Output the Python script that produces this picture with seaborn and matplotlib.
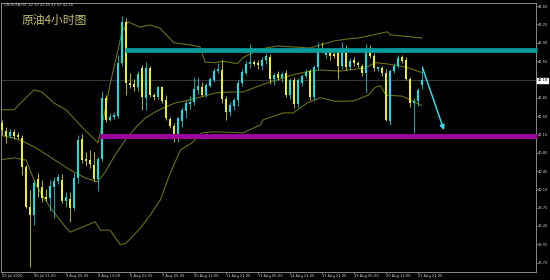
import numpy as np
import pandas as pd
import matplotlib
matplotlib.use("Agg")
import matplotlib.pyplot as plt
import matplotlib.transforms as mtransforms
import seaborn as sns

# ---------------- data ----------------
title_text = "原油4小时图"
header_text = "USOILSA,H4  42.10 42.45 42.02 42.18"

opens = [41.37, 41.22, 41.12, 41.20, 41.14, 41.08, 40.53, 39.77, 39.61, 40.29,
         40.15, 39.96, 39.93, 40.15, 40.25, 40.28, 39.88, 39.92, 39.75, 40.31,
         41.06, 40.68, 40.66, 40.57, 40.30, 40.68, 41.84, 41.43, 41.49, 41.50,
         42.51, 43.29, 42.13, 42.12, 42.06, 42.41, 41.84, 42.41, 41.90, 41.87,
         42.05, 41.81, 41.44, 41.31, 41.11, 41.40, 41.60, 41.73, 41.76, 42.00,
         42.06, 41.90, 42.08, 42.19, 42.37, 42.38, 41.82, 41.58, 41.70, 41.80,
         42.14, 42.33, 42.50, 42.53, 42.52, 42.46, 42.57, 42.62, 42.20, 42.30,
         42.22, 42.32, 41.90, 42.18, 41.73, 42.13, 42.27, 42.36, 41.87, 42.43,
         42.78, 42.67, 42.73, 42.68, 42.73, 42.45, 42.78, 42.43, 42.57, 42.51,
         42.46, 42.32, 42.78, 42.65, 42.40, 42.41, 42.32, 41.40, 42.37, 42.46,
         42.62, 42.57, 42.20, 41.75, 41.79, 42.10]
highs = [41.43, 41.30, 41.25, 41.25, 41.20, 41.14, 40.57, 40.09, 40.28, 40.41,
         40.28, 40.11, 40.28, 40.33, 40.39, 40.39, 40.05, 40.05, 40.41, 41.14,
         41.16, 40.82, 40.85, 40.82, 40.72, 41.97, 41.90, 41.56, 41.58, 42.66,
         43.41, 43.38, 42.33, 42.20, 42.36, 42.48, 42.54, 42.46, 41.95, 42.08,
         42.08, 41.90, 41.48, 41.37, 41.48, 41.67, 41.81, 41.88, 42.25, 42.25,
         42.15, 42.14, 42.25, 42.42, 42.52, 42.57, 41.88, 41.77, 41.85, 42.18,
         42.40, 42.56, 42.88, 42.58, 42.58, 42.63, 42.70, 42.68, 42.33, 42.36,
         42.34, 42.38, 42.23, 42.24, 42.22, 42.30, 42.40, 42.40, 42.47, 42.92,
         42.92, 42.80, 42.78, 42.72, 42.78, 42.92, 42.85, 42.60, 42.62, 42.55,
         42.50, 42.88, 42.86, 42.70, 42.46, 42.45, 42.40, 42.40, 42.52, 42.66,
         42.66, 42.62, 42.25, 41.85, 42.03, 42.45]
lows = [41.14, 40.99, 41.08, 41.06, 41.06, 40.37, 39.74, 38.62, 39.42, 39.95,
        39.86, 39.87, 39.69, 39.55, 40.20, 39.83, 39.77, 39.48, 39.70, 40.22,
        40.60, 40.55, 40.50, 40.26, 40.06, 40.64, 41.39, 41.40, 41.44, 41.46,
        42.45, 41.90, 42.04, 41.98, 41.98, 41.62, 41.62, 41.87, 41.81, 41.83,
        41.74, 41.43, 41.27, 41.00, 41.00, 41.29, 41.46, 41.64, 41.71, 41.92,
        41.89, 41.87, 42.05, 42.15, 42.33, 41.75, 41.43, 41.50, 41.62, 41.69,
        42.08, 42.28, 42.42, 42.45, 42.40, 42.38, 42.50, 42.12, 42.10, 42.18,
        42.16, 41.86, 41.82, 41.65, 41.68, 42.08, 42.22, 41.80, 41.80, 42.38,
        42.70, 42.60, 42.58, 42.60, 42.20, 42.40, 42.38, 42.38, 42.45, 42.44,
        42.27, 41.95, 42.60, 42.36, 42.36, 42.27, 41.40, 41.33, 42.33, 42.42,
        42.52, 42.18, 41.68, 41.17, 41.70, 42.02]
closes = [41.23, 41.12, 41.19, 41.11, 41.10, 40.53, 39.77, 39.61, 40.22, 40.14,
          39.93, 39.92, 40.16, 40.26, 40.33, 39.88, 39.96, 39.75, 40.31, 41.04,
          40.66, 40.65, 40.58, 40.30, 40.68, 41.84, 41.43, 41.49, 41.52, 42.51,
          43.29, 42.13, 42.10, 42.06, 42.31, 41.86, 42.41, 41.90, 41.86, 42.06,
          41.78, 41.46, 41.31, 41.11, 41.46, 41.62, 41.75, 41.77, 42.02, 42.08,
          41.90, 42.09, 42.20, 42.37, 42.40, 41.82, 41.57, 41.71, 41.80, 42.14,
          42.35, 42.50, 42.53, 42.50, 42.48, 42.57, 42.64, 42.20, 42.29, 42.22,
          42.30, 41.90, 42.18, 41.73, 42.18, 42.27, 42.35, 41.87, 42.43, 42.78,
          42.75, 42.75, 42.64, 42.64, 42.45, 42.78, 42.43, 42.55, 42.51, 42.48,
          42.32, 42.78, 42.65, 42.41, 42.43, 42.32, 41.43, 42.37, 42.46, 42.60,
          42.56, 42.20, 41.75, 41.79, 41.99, 42.18]

# Bollinger bands sampled at bar positions
upper_x = [-1, 3, 6, 8, 10, 13, 16, 20, 24, 25.5, 27, 28.5, 30, 31.5, 34.5, 37,
           39.5, 43, 47, 49.5, 50.8, 53.3, 55.3, 58.8, 60.3, 64.6, 68.8, 72.8,
           77.1, 79.6, 83.3, 87.1, 89.1, 92.8, 95.1, 96.3, 97.1, 100, 102.6, 105]
upper_y = [41.62, 41.62, 41.85, 42.00, 41.96, 41.75, 41.62, 41.29, 40.99, 41.50,
           42.10, 42.60, 43.10, 43.30, 43.20, 43.24, 43.18, 42.90, 42.86, 42.82,
           42.53, 42.52, 42.55, 42.50, 42.62, 42.78, 42.84, 42.82, 42.80, 42.86,
           42.94, 42.98, 42.99, 43.05, 43.09, 43.11, 43.05, 43.03, 43.01, 42.99]
middle_x = [-1, 3, 6, 8.5, 12, 17, 20.8, 23.8, 25.8, 28.3, 30.8, 33.3, 35.8, 38.3,
            40.8, 43.3, 47, 50, 53.3, 57, 60.3, 63, 67, 72.8, 77, 79.6, 84.6,
            90.8, 93.3, 96, 100.8, 105]
middle_y = [41.14, 41.08, 40.99, 40.89, 40.72, 40.47, 40.32, 40.24, 40.43, 40.76,
            41.04, 41.27, 41.46, 41.58, 41.67, 41.75, 41.81, 41.87, 41.94, 41.96,
            41.96, 42.04, 42.15, 42.29, 42.36, 42.38, 42.36, 42.42, 42.52, 42.50,
            42.44, 42.33]
lower_x = [-1, 3, 6, 7, 8.5, 12, 14.5, 17, 19.5, 23.3, 24.6, 27, 29.6, 31, 34.6,
           37.1, 39.6, 42, 44.6, 47.5, 50, 53, 60.3, 64.6, 65.3, 70.3, 72.8, 76.3,
           79.6, 83.3, 88, 91.6, 93.3, 94.6, 96, 100.1, 105]
lower_y = [40.66, 40.70, 40.66, 40.47, 40.18, 39.76, 39.51, 39.28, 39.36, 39.48,
           39.32, 39.32, 39.04, 39.07, 39.36, 39.61, 39.90, 40.40, 40.85, 40.99,
           41.18, 41.20, 41.18, 41.33, 41.43, 41.56, 41.56, 41.75, 41.85, 41.78,
           41.79, 41.90, 42.05, 42.08, 41.90, 41.88, 41.70]

resistance_level = 42.77
resistance_start = 30.75
support_level = 41.11
support_start = 24.5
current_price = 42.18
arrow_from = (105.1, 42.43)
arrow_to = (110.5, 41.23)

xtick_pos = [0, 8, 16, 24, 32, 40, 48, 56, 64, 72, 80, 88, 96, 104]
xtick_labels = ["29 Jul 2020", "30 Jul 21:00", "3 Aug 05:00", "4 Aug 13:00",
                "5 Aug 21:00", "7 Aug 05:00", "10 Aug 13:00", "11 Aug 21:00",
                "13 Aug 05:00", "14 Aug 13:00", "17 Aug 21:00", "19 Aug 05:00",
                "20 Aug 13:00", "21 Aug 21:00"]
ytick_vals = [43.60, 43.25, 42.90, 42.55, 41.85, 41.50, 41.15, 40.80, 40.45,
              40.10, 39.75, 39.40, 39.05, 38.70]

# ---------------- styling ----------------
sns.set_theme(style="dark", rc={"axes.facecolor": "black", "figure.facecolor": "black",
                                "axes.edgecolor": "#8a8a8a", "axes.linewidth": 0.7})
plt.rcParams['font.family'] = ['DejaVu Sans', 'Noto Sans CJK SC']

UP = "#00e8f0"
DOWN = "#f2f200"
BAND = "#6e6e12"
SMALL = 2.6

fig = plt.figure(figsize=(5.5, 2.8), dpi=100)
ax = fig.add_axes([1 / 550, 1 - 272 / 280, 534.5 / 550, 269.5 / 280])
ax.set_facecolor("black")

df = pd.DataFrame({"o": opens, "h": highs, "l": lows, "c": closes})
df["i"] = np.arange(len(df))
up = df["c"] >= df["o"]
colors = np.where(up, UP, DOWN)

# current price line
ax.axhline(current_price, color="#3a3a3a", lw=0.7, zorder=1)

# bands
for bx, by in [(upper_x, upper_y), (middle_x, middle_y), (lower_x, lower_y)]:
    sns.lineplot(x=bx, y=by, ax=ax, color=BAND, lw=0.8, sort=False, legend=False, zorder=2)

# wicks + bodies
ax.vlines(df["i"], df["l"], df["h"], colors=colors, lw=0.7, alpha=0.75, zorder=3)
body_h = np.maximum((df["c"] - df["o"]).abs(), 0.025)
ax.bar(df["i"], body_h, bottom=np.minimum(df["o"], df["c"]), width=0.72,
       color=colors, linewidth=0, zorder=4)

# horizontal levels
ax.plot([resistance_start, 133.8], [resistance_level] * 2, color="#009c9c", lw=3.4,
        solid_capstyle="butt", zorder=5, clip_on=False)
ax.plot([support_start, 133.8], [support_level] * 2, color="#9a009a", lw=3.6,
        solid_capstyle="butt", zorder=5, clip_on=False)

# arrow
ax.annotate("", xy=arrow_to, xytext=arrow_from,
            arrowprops=dict(arrowstyle="-|>", color="#38d8e4", lw=1.1,
                            mutation_scale=7, shrinkA=0, shrinkB=0), zorder=6)

ax.set_xlim(-0.25, 133.375)
ax.set_ylim(38.52, 43.67)

ax.yaxis.tick_right()
ax.set_yticks(ytick_vals)
ax.set_yticklabels([f"{v:.2f}" for v in ytick_vals])
ax.set_xticks(xtick_pos)
ax.set_xticklabels(xtick_labels, ha="left")
ax.tick_params(axis="both", colors="#8a8a8a", labelcolor="#d0d0d0", labelsize=SMALL,
               length=1.2, width=0.5, pad=0.6, direction="out")
ax.tick_params(axis="x", bottom=True)
ax.tick_params(axis="y", right=True, left=False)
ax.grid(False)
for s in ax.spines.values():
    s.set_color("#8a8a8a")
    s.set_linewidth(0.7)
ax.set_xlabel("")
ax.set_ylabel("")

# price label box
trans = mtransforms.blended_transform_factory(ax.transAxes, ax.transData)
ax.text(1.004, current_price, f"{current_price:.2f}", transform=trans, ha="left",
        va="center", fontsize=SMALL, color="black",
        bbox=dict(boxstyle="square,pad=0.2", fc="white", ec="white"), zorder=10,
        clip_on=False)

# texts
fig.text(4 / 550, 1 - 4.5 / 280, header_text, fontsize=2.6, color="#c8c8c8",
         ha="left", va="center")
fig.text(22 / 550, 1 - 20 / 280, title_text, fontsize=8.5, color="#c0c070",
         ha="left", va="center", family=["Noto Sans CJK SC", "DejaVu Sans"])

fig.savefig("out.png", dpi=100, facecolor="black")
